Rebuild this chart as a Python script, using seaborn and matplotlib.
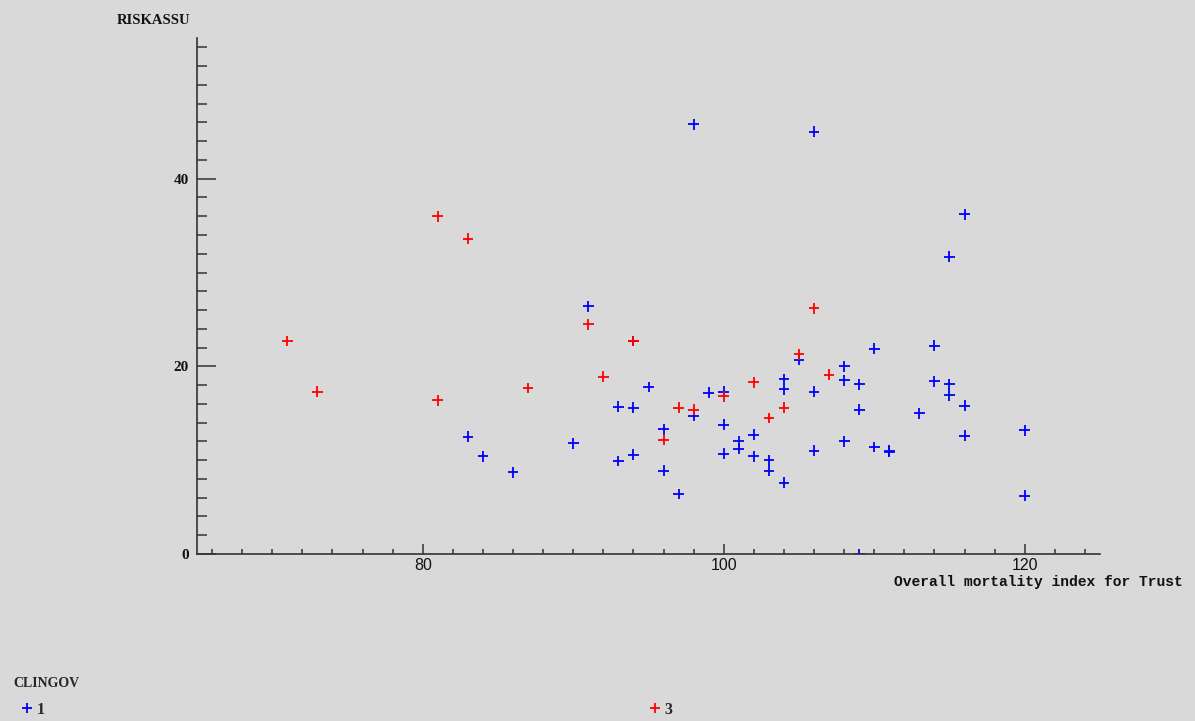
import numpy as np
import pandas as pd
import matplotlib
matplotlib.use("Agg")
import matplotlib.pyplot as plt
import seaborn as sns
from matplotlib.ticker import FixedLocator

# ---- data ----
red_x = [71, 73, 81, 81, 83, 87, 91, 92, 94, 96, 97, 98, 100, 102, 103, 104, 105, 106, 107]
red_y = [22.7, 17.3, 36.0, 16.4, 33.6, 17.7, 24.5, 18.9, 22.7, 12.2, 15.6, 15.4, 16.8, 18.3, 14.5, 15.6, 21.3, 26.2, 19.1]

blue_x = [83, 84, 86, 90, 91, 93, 93, 94, 94, 94, 95, 96, 96, 97, 98, 98, 99,
          100, 100, 100, 101, 101, 102, 102, 103, 103, 104, 104, 104, 105,
          106, 106, 106, 108, 108, 108, 109, 109, 109, 110, 110, 111, 111,
          113, 114, 114, 115, 115, 115, 116, 116, 116, 120, 120]
blue_y = [12.5, 10.4, 8.7, 11.8, 26.4, 15.7, 9.9, 22.7, 15.6, 10.6, 17.8, 13.3, 8.9, 6.4, 45.8, 14.7, 17.2,
          17.3, 13.8, 10.7, 12.0, 11.2, 12.7, 10.4, 10.0, 8.9, 18.65, 17.55, 7.6, 20.7,
          45.0, 17.3, 11.0, 20.0, 18.5, 12.0, 18.1, 15.4, 0.0, 21.9, 11.4, 11.0, 10.9,
          15.0, 22.2, 18.4, 31.7, 18.1, 16.9, 36.2, 15.8, 12.6, 13.2, 6.2]

groups = [1, 3]
x_label = "Overall mortality index for Trust"
y_label = "RISKASSU"
legend_title = "CLINGOV"

df = pd.DataFrame({
    "x": blue_x + red_x,
    "y": blue_y + red_y,
    "CLINGOV": [groups[0]] * len(blue_x) + [groups[1]] * len(red_x),
})

BG = "#d9d9d9"
sns.set_theme(style="white")
plt.rcParams["font.family"] = ["Liberation Serif", "DejaVu Serif"]

fig = plt.figure(figsize=(11.95, 7.21), dpi=100, facecolor=BG)
ax = fig.add_axes([197 / 1195, 1 - 554 / 721, (1100 - 197) / 1195, (554 - 38) / 721])
ax.set_facecolor(BG)

sns.scatterplot(data=df, x="x", y="y", hue="CLINGOV", palette={1: "#0000ff", 3: "#ff0000"},
                marker="+", s=60, linewidth=1.3, ax=ax, legend=True)

ax.set_xlim(65, 125)
ax.set_ylim(0, 55)
for s in ["top", "right"]:
    ax.spines[s].set_visible(False)
for s in ["left", "bottom"]:
    ax.spines[s].set_color("#333333")
    ax.spines[s].set_linewidth(1.2)

ax.xaxis.set_major_locator(FixedLocator([80, 100, 120]))
ax.xaxis.set_minor_locator(FixedLocator(list(range(66, 125, 2))))
ax.yaxis.set_major_locator(FixedLocator([0, 20, 40]))
ax.yaxis.set_minor_locator(FixedLocator(list(range(2, 55, 2))))

ax.tick_params(axis="x", which="major", direction="in", length=7.2, width=1.1, color="#333333",
               pad=3, labelsize=11.5, labelcolor="#111111")
ax.tick_params(axis="x", which="minor", direction="in", length=3.6, width=1.1, color="#333333")
ax.tick_params(axis="y", which="major", direction="in", length=13.7, width=1.1, color="#333333",
               pad=6, labelsize=11, labelcolor="#111111")
ax.tick_params(axis="y", which="minor", direction="in", length=7.2, width=1.1, color="#333333")
ax.tick_params(which="both", bottom=True, left=True)

for lab in ax.get_xticklabels():
    lab.set_fontfamily(["Liberation Sans", "DejaVu Sans"])
for lab in ax.get_yticklabels():
    lab.set_fontweight("bold")

ax.set_xlabel("")
ax.set_ylabel("")
fig.text(1183 / 1195, 1 - 582 / 721, x_label, ha="right", va="center",
         family=["Liberation Mono", "DejaVu Sans Mono"], fontweight="bold", fontsize=10.5, color="#111111")
fig.text(117 / 1195, 1 - 20 / 721, y_label, ha="left", va="center",
         fontweight="bold", fontsize=10.5, color="#111111")

leg = ax.get_legend()
handles = leg.legend_handles
labels = [t.get_text() for t in leg.get_texts()]
leg.remove()
leg = fig.legend(handles, labels, title=legend_title, loc="lower left",
                 bbox_to_anchor=(13 / 1195, 3 / 721), ncol=2, frameon=False,
                 borderpad=0, borderaxespad=0, labelspacing=0.75,
                 columnspacing=37.3, handletextpad=-0.25, handlelength=1.75,
                 prop={"weight": "bold", "size": 11.5},
                 title_fontproperties={"weight": "bold", "size": 10})
leg._legend_box.align = "left"
for h in leg.legend_handles:
    try:
        h.set_sizes([60])
    except Exception:
        pass

fig.savefig("out.png", dpi=100, facecolor=BG)
